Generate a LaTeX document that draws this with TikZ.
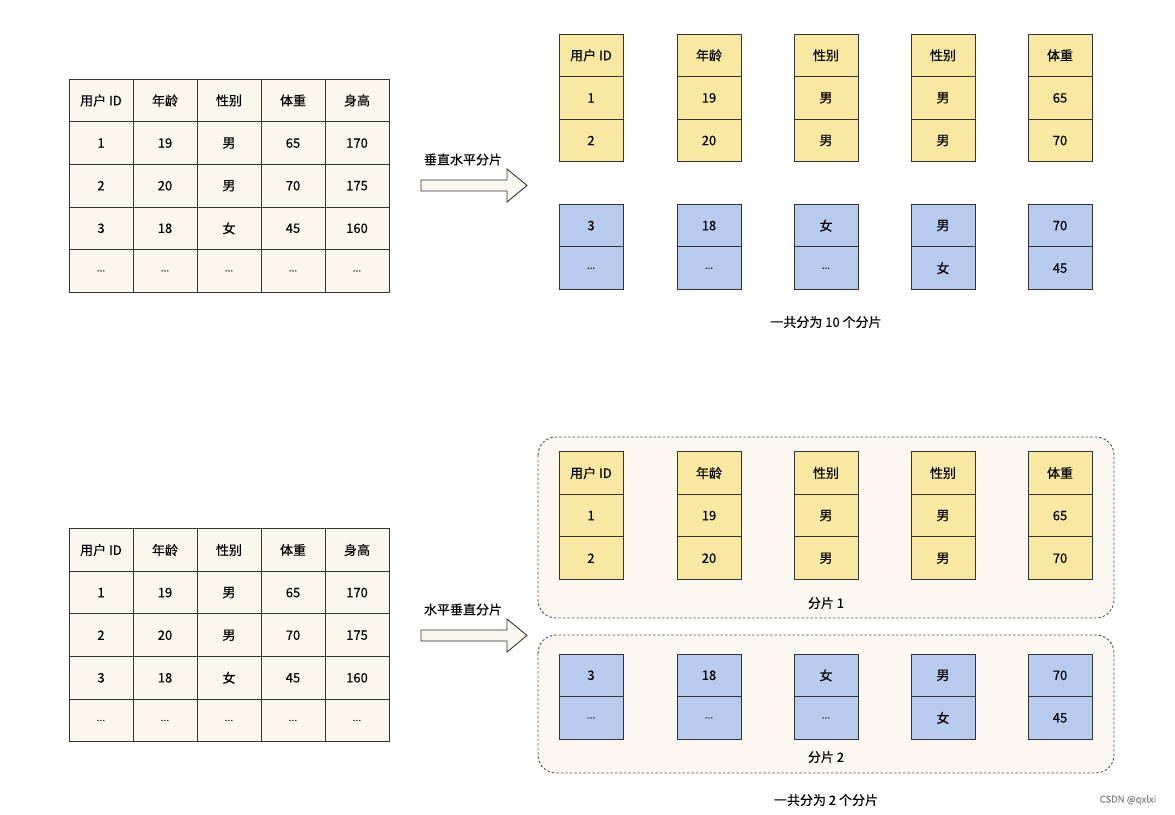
\documentclass[tikz,border=0pt]{standalone}
\usepackage{fontspec}
\setmainfont{Noto Sans CJK SC}[FakeBold=0.25]
\usetikzlibrary{positioning}
\definecolor{tablebg}{RGB}{250,248,238}
\definecolor{shardY}{RGB}{248,232,162}
\definecolor{shardB}{RGB}{182,203,238}
\definecolor{edge}{RGB}{51,51,51}
\definecolor{groupbg}{RGB}{250,248,240}
\newcommand\moredots{{\fontsize{9}{10}\selectfont .\kern0.3pt.\kern0.3pt.}}

\begin{document}
\begin{tikzpicture}[x=1pt, y=-1pt, font=\fontsize{13}{15}\selectfont,
    cell/.style={draw=edge, line width=0.9pt, minimum width=64pt, minimum height=42.6pt, inner sep=0pt},
    tcell/.style={cell, fill=tablebg},
    ycell/.style={cell, fill=shardY},
    bcell/.style={cell, fill=shardB},
    shardgroup/.style={draw=edge!85, dash pattern=on 2.5pt off 2pt, line width=0.9pt, fill=groupbg, rounded corners=18pt}]
    \useasboundingbox (0,0) rectangle (1175,814);

    % source tables
    \foreach \t/\y in {a/100.5, b/550}
    {
        \foreach \r/\row in {0/{用户 ID,年龄,性别,体重,身高}, 1/{1,19,男,65,170}, 2/{2,20,男,70,175}, 3/{3,18,女,45,160}, 4/{\moredots,\moredots,\moredots,\moredots,\moredots}}
        {
            \foreach \v [count=\c] in \row
                \node[tcell] (tab\t-\r-\c) at (37+64*\c, \y+42.6*\r) {\v};
        }
    }

    % block arrows
    \foreach \t/\y/\lbl in {a/185.5/垂直水平分片, b/635.5/水平垂直分片}
    {
        \draw[fill=tablebg, draw=edge, line width=0.9pt] (421,\y-5.5) -- (507,\y-5.5) -- (507,\y-16.5) -- (527,\y)
            -- (507,\y+16.5) -- (507,\y+5.5) -- (421,\y+5.5) -- cycle;
        \node (arr\t) at (463,\y-26) {\lbl};
    }

    % shard groups (bottom)
    \draw[shardgroup] (538,437) rectangle (1114,618);
    \draw[shardgroup] (538,635) rectangle (1114,773);
    \node (grp1) at (826,603) {分片 1};
    \node (grp2) at (826,757) {分片 2};

    % shard columns
    \foreach \x/\h/\p/\q/\s/\u [count=\c] in {591/用户 ID/1/2/3/\moredots, 709/年龄/19/20/18/\moredots, 826/性别/男/男/女/\moredots,
        943/性别/男/男/男/女, 1060/体重/65/70/70/45}
    {
        \node[ycell] (va-\c-0) at (\x,55.3) {\h};
        \node[ycell] (va-\c-1) at (\x,97.9) {\p};
        \node[ycell] (va-\c-2) at (\x,140.5) {\q};
        \node[bcell] (va-\c-3) at (\x,225.6) {\s};
        \node[bcell] (va-\c-4) at (\x,268.2) {\u};
        \node[ycell] (vb-\c-0) at (\x,473) {\h};
        \node[ycell] (vb-\c-1) at (\x,515.6) {\p};
        \node[ycell] (vb-\c-2) at (\x,558.2) {\q};
        \node[bcell] (vb-\c-3) at (\x,675.3) {\s};
        \node[bcell] (vb-\c-4) at (\x,717.9) {\u};
    }

    \node (sumA) at (826,322) {一共分为 10 个分片};
    \node (sumB) at (826,800) {一共分为 2 个分片};
    \node[text=edge!60, font=\fontsize{9.5}{11}\selectfont] (mark) at (1128,800) {CSDN @qxlxi};
\end{tikzpicture}
\end{document}
